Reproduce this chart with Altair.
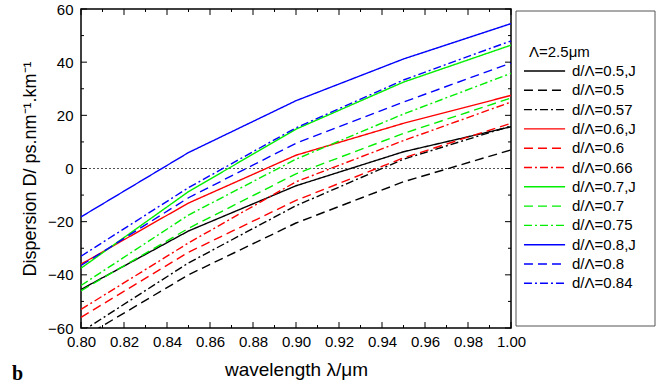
import altair as alt
import pandas as pd

# ---- data ----
wavelength = [0.80, 0.85, 0.90, 0.95, 1.00]

series_names = ["d/Λ=0.5,J", "d/Λ=0.5", "d/Λ=0.57",
                "d/Λ=0.6,J", "d/Λ=0.6", "d/Λ=0.66",
                "d/Λ=0.7,J", "d/Λ=0.7", "d/Λ=0.75",
                "d/Λ=0.8,J", "d/Λ=0.8", "d/Λ=0.84"]

d05J = [-45.5, -23.5, -6.5, 6.3, 15.7]
d05 = [-64.0, -40.0, -20.5, -5.0, 7.0]
d057 = [-61.5, -35.5, -14.0, 3.5, 16.0]
d06J = [-36.0, -13.0, 5.0, 17.0, 27.5]
d06 = [-56.0, -31.5, -12.0, 4.0, 17.0]
d066 = [-53.0, -28.0, -5.0, 10.5, 25.0]
d07J = [-37.5, -8.7, 14.8, 32.5, 46.4]
d07 = [-46.0, -22.5, -2.0, 13.2, 26.5]
d075 = [-44.0, -17.5, 3.5, 20.5, 35.8]
d08J = [-18.2, 6.0, 25.5, 41.2, 54.5]
d08 = [-36.5, -11.0, 9.5, 25.0, 39.7]
d084 = [-33.0, -7.2, 15.3, 33.3, 48.0]

series_values = [d05J, d05, d057, d06J, d06, d066, d07J, d07, d075, d08J, d08, d084]

series_colors = ["#000000", "#000000", "#000000",
                 "#ff0000", "#ff0000", "#ff0000",
                 "#00ee00", "#00ee00", "#00ee00",
                 "#0000ff", "#0000ff", "#0000ff"]
SOLID = [1, 0]
DASH = [9, 5]
DASHDOT = [8, 3, 2, 3]
series_dashes = [SOLID, DASH, DASHDOT] * 4

x_major = [0.80, 0.82, 0.84, 0.86, 0.88, 0.90, 0.92, 0.94, 0.96, 0.98, 1.00]
x_minor = [0.81, 0.83, 0.85, 0.87, 0.89, 0.91, 0.93, 0.95, 0.97, 0.99]
y_major = [-60, -40, -20, 0, 20, 40, 60]
y_minor = [-50, -30, -10, 10, 30, 50]

rows = []
for name, vals in zip(series_names, series_values):
    for w, v in zip(wavelength, vals):
        rows.append({"series": name, "wl": w, "D": v})
df = pd.DataFrame(rows)

W, H = 430, 319
FONT = "Liberation Sans"

xscale = alt.Scale(domain=[0.8, 1.0], nice=False, zero=False)
yscale = alt.Scale(domain=[-60, 60], nice=False, zero=False)

leg = alt.Legend(title="Λ=2.5μm", orient="none", legendX=448, legendY=36,
                 symbolType="M-1.67,0H2.9", symbolSize=324, symbolStrokeWidth=1.4,
                 symbolFillColor="transparent",
                 labelFont=FONT, labelFontSize=15, titleFont=FONT,
                 titleFontSize=15, titleFontWeight="normal", rowPadding=1.3,
                 titlePadding=1, labelOffset=23, padding=0)

lines = alt.Chart(df).mark_line(strokeWidth=1.4, clip=True).encode(
    x=alt.X("wl:Q", scale=xscale,
            axis=alt.Axis(values=x_major, format=".2f", title="wavelength λ/μm",
                          labelPadding=6, titlePadding=11, labelOverlap=False,
                          labelFlush=False, titleFontSize=19)),
    y=alt.Y("D:Q", scale=yscale,
            axis=alt.Axis(values=y_major, format="d",
                          title="Dispersion D/ ps.nm⁻¹.km⁻¹",
                          labelPadding=8, titlePadding=8, labelOverlap=False,
                          labelFlush=False, titleFontSize=18)),
    color=alt.Color("series:N", scale=alt.Scale(domain=series_names, range=series_colors), legend=leg),
    strokeDash=alt.StrokeDash("series:N", scale=alt.Scale(domain=series_names, range=series_dashes), legend=leg),
)

zero = alt.Chart(pd.DataFrame({"D": [0]})).mark_rule(
    strokeDash=[2, 2], color="#555555", strokeWidth=1.2).encode(y=alt.Y("D:Q", scale=yscale))

xmaj = pd.DataFrame({"wl": x_major})
xmin = pd.DataFrame({"wl": x_minor})
ymaj = pd.DataFrame({"D": y_major})
ymin = pd.DataFrame({"D": y_minor})

def xt(d, ln, top):
    if top:
        return alt.Chart(d).mark_rule(color="black").encode(
            x=alt.X("wl:Q", scale=xscale), y=alt.value(0), y2=alt.value(ln))
    return alt.Chart(d).mark_rule(color="black").encode(
        x=alt.X("wl:Q", scale=xscale), y=alt.value(H), y2=alt.value(H - ln))

def yt(d, ln, right):
    if right:
        return alt.Chart(d).mark_rule(color="black").encode(
            y=alt.Y("D:Q", scale=yscale), x=alt.value(W), x2=alt.value(W - ln))
    return alt.Chart(d).mark_rule(color="black").encode(
        y=alt.Y("D:Q", scale=yscale), x=alt.value(0), x2=alt.value(ln))

ticks = [xt(xmaj, 6, False), xt(xmin, 3, False), xt(xmaj, 6, True), xt(xmin, 3, True),
         yt(ymaj, 6, False), yt(ymin, 3, False), yt(ymaj, 6, True), yt(ymin, 3, True)]

box = alt.Chart(pd.DataFrame({"a": [0]})).mark_rect(
    fillOpacity=0, stroke="#555555", strokeWidth=1).encode(
    x=alt.value(435), x2=alt.value(574), y=alt.value(2), y2=alt.value(317))

blabel = alt.Chart(pd.DataFrame({"a": [0]})).mark_text(
    text="b", font="Liberation Serif", fontWeight="bold", fontSize=20,
    align="left", baseline="alphabetic").encode(x=alt.value(-69), y=alt.value(371))

chart = alt.layer(zero, lines, *ticks, box, blabel).properties(
    width=W, height=H,
    autosize=alt.AutoSizeParams(type="none"),
    padding={"left": 81, "top": 9, "right": 158, "bottom": 60},
).configure_axis(
    labelFont=FONT, labelFontSize=15, titleFont=FONT, titleFontSize=17,
    titleFontWeight="normal", grid=False, domain=False, ticks=False, tickSize=0,
    labelColor="black", titleColor="black",
).configure_view(stroke="black", strokeWidth=1.5)

chart.save("out.html", embed_options={"renderer": "svg", "actions": False})
